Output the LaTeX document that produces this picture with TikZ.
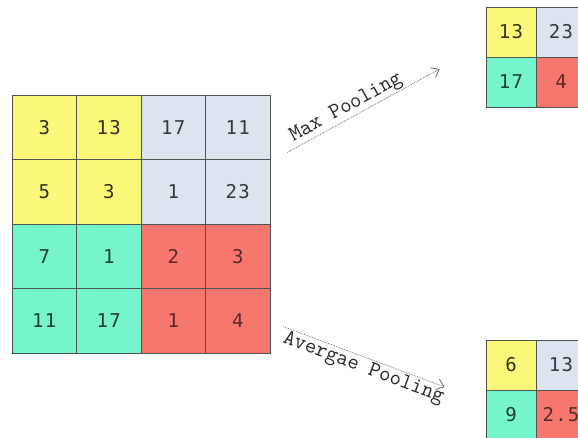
\documentclass[tikz,border=0pt]{standalone}
\usepackage{fontspec}
\newfontfamily\cellfont{DejaVu Sans Mono}[LetterSpace=6]
\usetikzlibrary{arrows.meta, positioning}
\definecolor{cellline}{HTML}{4E5450}
\definecolor{poolyellow}{HTML}{FCF87A}
\definecolor{poolblue}{HTML}{DCE4EE}
\definecolor{poolteal}{HTML}{76F4CC}
\definecolor{poolred}{HTML}{F7776F}
\tikzstyle{cell} = [rectangle, draw=cellline, line width=0.8pt, minimum size=64.5, inner sep=0pt, font=\cellfont\fontsize{19}{19}\selectfont]
\tikzstyle{smallcell} = [cell, minimum size=50]
\tikzstyle{quad0} = [fill=poolyellow, text=poolyellow!20!black]
\tikzstyle{quad1} = [fill=poolblue, text=poolblue!25!black]
\tikzstyle{quad2} = [fill=poolteal, text=poolteal!25!black]
\tikzstyle{quad3} = [fill=poolred, text=poolred!35!black]
\tikzstyle{poolarrow} = [draw=black!65, densely dotted, line width=0.7pt, -{Straight Barb[length=7pt, width=11pt]}]
\tikzstyle{poollabel} = [font=\ttfamily\fontsize{22}{22}\selectfont\addfontfeatures{LetterSpace=6}, text=black!85, sloped, inner sep=1pt]

\begin{document}
\begin{tikzpicture}[x=1pt, y=-1pt]
\useasboundingbox (0,0) rectangle (578,438);
\clip (0,0) rectangle (578,438);

% input 4x4 feature map
\foreach \v [count=\i from 0, evaluate=\i as \r using int(\i/4), evaluate=\i as \c using int(\i-4*int(\i/4)), evaluate=\i as \q using int(2*int(\i/8)+int((\i-4*int(\i/4))/2))] in {3,13,17,11,5,3,1,23,7,1,2,3,11,17,1,4}
  \node (in\r\c) [cell, quad\q] at ({12+64.5*(\c+0.5)}, {95+64.5*(\r+0.5)}) {\v};

% max pooling result
\node (max00) [smallcell, quad0] at (511,32) {13};
\node (max01) [smallcell, quad1] at (561,32) {23};
\node (max10) [smallcell, quad2] at (511,82) {17};
\node (max11) [smallcell, quad3] at (561,82) {4};

% average pooling result
\node (avg00) [smallcell, quad0] at (511,365) {6};
\node (avg01) [smallcell, quad1] at (561,365) {13};
\node (avg10) [smallcell, quad2] at (511,415) {9};
\node (avg11) [smallcell, quad3] at (561,415) {2.5};

\coordinate (maxstart) at ([shift={(17,-7.5)}]in03.south east);
\coordinate (maxend) at ([shift={(-46,37)}]max00.west);
\coordinate (avgstart) at ([shift={(13,6)}]in33.east);
\coordinate (avgend) at ([shift={(-41,22)}]avg00.west);

\draw[poolarrow] (maxstart) -- node[poollabel, above, pos=0.42] {Max Pooling} (maxend);
\draw[poolarrow] (avgstart) -- node[poollabel, below, pos=0.52] {Avergae Pooling} (avgend);

\end{tikzpicture}
\end{document}
